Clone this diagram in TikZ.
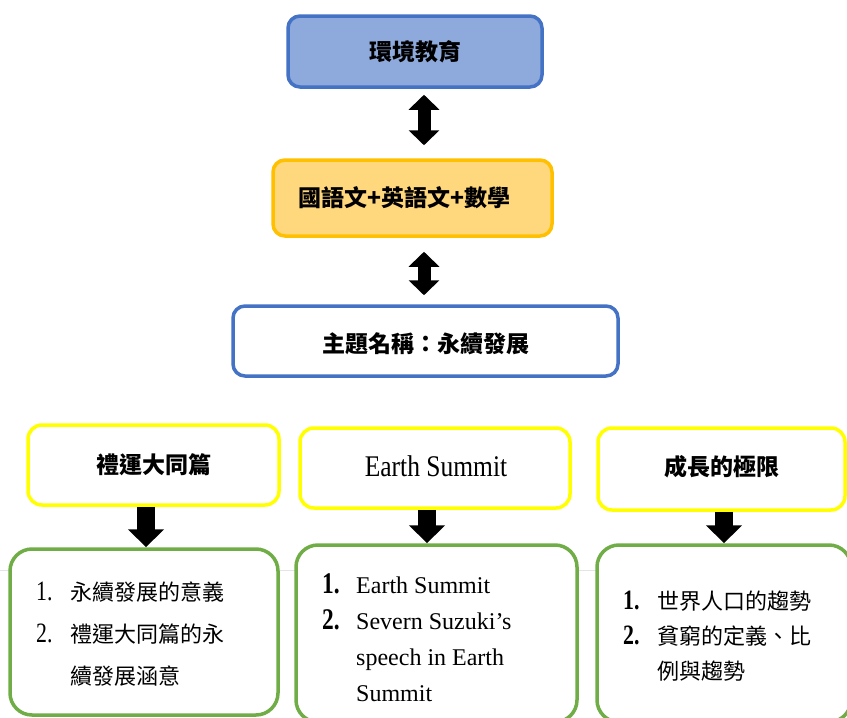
\documentclass[tikz,border=0pt]{standalone}
\usepackage{fontspec}
\setmainfont{Liberation Serif}
\newfontfamily\cjk{Noto Sans CJK TC}
\newfontfamily\narrowserif{Liberation Serif}[FakeStretch=0.85]
\newfontfamily\numserif{Liberation Serif}[FakeStretch=0.78]
\usetikzlibrary{arrows.meta,calc}
\definecolor{topfill}{HTML}{8EA9DB}
\definecolor{topline}{HTML}{4472C4}
\definecolor{goldfill}{HTML}{FFD77C}
\definecolor{goldline}{HTML}{FFC000}
\definecolor{yellowline}{HTML}{FFFF00}
\definecolor{greenline}{HTML}{70AD47}
\definecolor{faintgray}{HTML}{E4E4E4}
\newcommand\numcell[1]{\makebox[34pt][l]{#1}}
\tikzset{
  box/.style={draw, line width=3.5pt, rounded corners=12pt, inner sep=0pt},
  topbox/.style={box, draw=topline, fill=topfill},
  goldbox/.style={box, draw=goldline, fill=goldfill},
  themebox/.style={box, draw=topline, fill=white},
  titlebox/.style={box, draw=yellowline, fill=white, rounded corners=14pt},
  listbox/.style={box, draw=greenline, fill=white, rounded corners=22pt},
  titletext/.style={font=\cjk\bfseries\fontsize{23}{28}\selectfont},
  listtext/.style={inner sep=0pt, anchor=north west, align=left},
  dblarrow/.style={line width=13pt, {Triangle[width=30pt,length=15pt]}-{Triangle[width=30pt,length=15pt]}},
  downarrow/.style={line width=18pt, -{Triangle[width=35pt,length=18pt]}},
}
\begin{document}
\begin{tikzpicture}[x=1pt, y=-1pt]
\useasboundingbox (0,0) rectangle (847,718);
\fill[white] (0,0) rectangle (847,718);
% faint page line
\coordinate (pl) at (0,570);
\coordinate (pr) at (847,570);
\draw[faintgray, line width=1pt] (pl) -- (pr);

\node[topbox, minimum width=254pt, minimum height=71pt] (b1) at (415,51.5) {};
\node[titletext] (t1) at (415,52) {環境教育};

\node[goldbox, minimum width=279pt, minimum height=76pt] (b2) at (412.5,198) {};
\node[titletext, anchor=west] (t2) at (295,198) {國語文+英語文+數學};

\node[themebox, minimum width=385pt, minimum height=70pt] (b3) at (425.5,341) {};
\node[titletext] (t3) at (426,344) {主題名稱：永續發展};

\node[titlebox, minimum width=251pt, minimum height=80pt] (yA) at (153.5,465) {};
\node[titletext] (tA) at (154,465) {禮運大同篇};
\node[titlebox, minimum width=270pt, minimum height=80pt] (yB) at (435,468) {};
\node[font=\narrowserif\fontsize{30}{34}\selectfont] (tB) at (436,466) {Earth Summit};
\node[titlebox, minimum width=247pt, minimum height=82pt] (yC) at (721.5,469) {};
\node[titletext] (tC) at (722,467) {成長的極限};

\node[listbox, minimum width=268pt, minimum height=166pt] (gA) at (144,632) {};
\node[listbox, minimum width=281pt, minimum height=177pt] (gB) at (436.5,633.5) {};
\node[listbox, minimum width=254pt, minimum height=177pt] (gC) at (724,633.5) {};

\node[listtext] (lA) at (36,571) {\fontsize{22}{42}\selectfont
\begin{tabular}{@{}l@{}l@{}}
\numcell{\numserif\fontsize{28}{42}\selectfont 1.} & \cjk 永續發展的意義\\
\numcell{\numserif\fontsize{28}{42}\selectfont 2.} & \cjk 禮運大同篇的永\\
 & \cjk 續發展涵意
\end{tabular}};

\node[listtext] (lB) at (322,568) {\fontsize{24}{36}\selectfont
\begin{tabular}{@{}l@{}l@{}}
\numcell{\numserif\bfseries\fontsize{30}{36}\selectfont 1.} & Earth Summit\\
\numcell{\numserif\bfseries\fontsize{30}{36}\selectfont 2.} & Severn Suzuki’s\\
 & speech in Earth\\
 & Summit
\end{tabular}};

\node[listtext] (lC) at (623,585) {\fontsize{22}{35}\selectfont
\begin{tabular}{@{}l@{}l@{}}
\numcell{\numserif\bfseries\fontsize{28}{35}\selectfont 1.} & \cjk 世界人口的趨勢\\
\numcell{\numserif\bfseries\fontsize{28}{35}\selectfont 2.} & \cjk 貧窮的定義、比\\
 & \cjk 例與趨勢
\end{tabular}};

% arrows
\coordinate (d) at (424,0);
\draw[dblarrow] ($(b1.south -| d)+(0,6)$) -- ($(b2.north -| d)+(0,-13)$);
\draw[dblarrow] ($(b2.south -| d)+(0,14)$) -- ($(b3.north -| d)+(0,-9)$);

\coordinate (xa) at (146,0);
\coordinate (xb) at (427,0);
\coordinate (xc) at (724,0);
\draw[downarrow] (yA.south -| xa) -- (gA.north -| xa);
\draw[downarrow] (yB.south -| xb) -- (gB.north -| xb);
\draw[downarrow] (yC.south -| xc) -- (gC.north -| xc);
\end{tikzpicture}
\end{document}
